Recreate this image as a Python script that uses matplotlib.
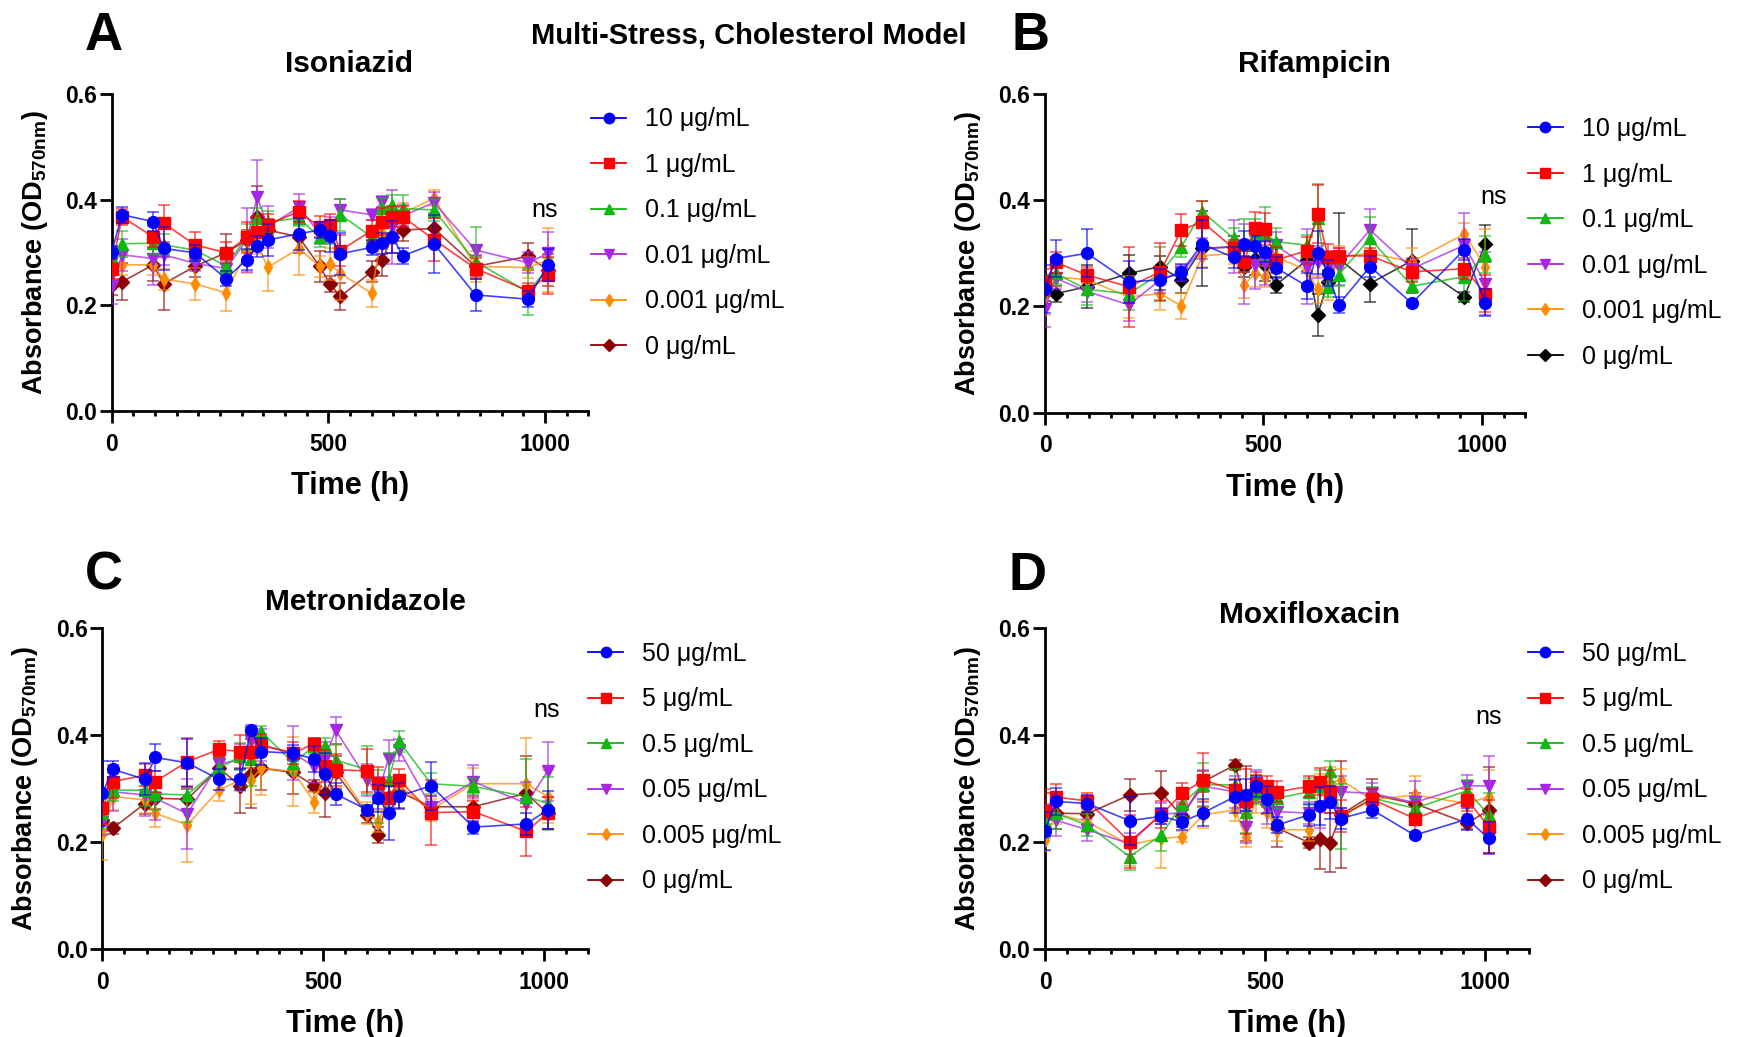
import matplotlib.pyplot as plt
from matplotlib.ticker import MultipleLocator, FormatStrFormatter

plt.rcParams['font.family'] = ['Liberation Sans', 'DejaVu Sans']
plt.rcParams['mathtext.fontset'] = 'custom'
plt.rcParams['mathtext.bf'] = 'Liberation Sans:bold'
plt.rcParams['mathtext.rm'] = 'Liberation Sans'

# sampling times (h)
times_a = [0, 24, 96, 120, 192, 264, 312, 336, 360, 432, 480, 504, 528, 600, 624, 648, 672, 744, 840, 960, 1008]
times_b = [0, 24, 96, 192, 264, 312, 360, 432, 456, 480, 504, 528, 600, 624, 648, 672, 744, 840, 960, 1008]

labels_low = ["10 μg/mL", "1 μg/mL", "0.1 μg/mL", "0.01 μg/mL", "0.001 μg/mL", "0 μg/mL"]
labels_high = ["50 μg/mL", "5 μg/mL", "0.5 μg/mL", "0.05 μg/mL", "0.005 μg/mL", "0 μg/mL"]

# Isoniazid
inh_10 = [0.301, 0.372, 0.359, 0.308, 0.300, 0.251, 0.287, 0.312, 0.324, 0.336, 0.343, 0.332, 0.298, 0.310, 0.318, 0.330, 0.294, 0.317, 0.220, 0.212, 0.277]
inh_10_err = [0.012, 0.015, 0.018, 0.040, 0.015, 0.015, 0.020, 0.020, 0.030, 0.030, 0.015, 0.030, 0.040, 0.015, 0.020, 0.030, 0.015, 0.055, 0.030, 0.015, 0.030]
inh_1 = [0.270, 0.368, 0.330, 0.356, 0.315, 0.300, 0.329, 0.340, 0.353, 0.378, 0.349, 0.353, 0.304, 0.342, 0.359, 0.368, 0.368, 0.325, 0.270, 0.228, 0.257]
inh_1_err = [0.020, 0.015, 0.020, 0.035, 0.025, 0.020, 0.030, 0.030, 0.020, 0.020, 0.020, 0.020, 0.030, 0.020, 0.025, 0.020, 0.020, 0.040, 0.020, 0.015, 0.035]
inh_01 = [0.290, 0.317, 0.318, 0.315, 0.305, 0.275, 0.330, 0.365, 0.359, 0.365, 0.330, 0.337, 0.372, 0.330, 0.384, 0.390, 0.384, 0.381, 0.283, 0.226, 0.270]
inh_01_err = [0.020, 0.025, 0.020, 0.020, 0.020, 0.015, 0.025, 0.020, 0.020, 0.015, 0.020, 0.020, 0.030, 0.020, 0.020, 0.020, 0.025, 0.020, 0.065, 0.045, 0.020]
inh_001 = [0.237, 0.296, 0.289, 0.296, 0.280, 0.270, 0.324, 0.406, 0.349, 0.386, 0.337, 0.343, 0.381, 0.372, 0.397, 0.349, 0.370, 0.395, 0.305, 0.281, 0.299]
inh_001_err = [0.035, 0.030, 0.050, 0.020, 0.015, 0.015, 0.060, 0.070, 0.040, 0.025, 0.020, 0.025, 0.020, 0.010, 0.010, 0.070, 0.020, 0.020, 0.010, 0.020, 0.040]
inh_0001 = [0.270, 0.277, 0.277, 0.250, 0.241, 0.224, 0.302, 0.318, 0.272, 0.308, 0.274, 0.278, 0.261, 0.223, 0.337, 0.337, 0.375, 0.403, 0.274, 0.272, 0.286]
inh_0001_err = [0.020, 0.020, 0.020, 0.020, 0.030, 0.035, 0.040, 0.020, 0.045, 0.050, 0.020, 0.030, 0.050, 0.025, 0.020, 0.020, 0.020, 0.015, 0.030, 0.020, 0.060]
inh_0 = [0.239, 0.245, 0.277, 0.241, 0.274, 0.300, 0.324, 0.367, 0.343, 0.330, 0.274, 0.241, 0.217, 0.264, 0.286, 0.330, 0.343, 0.346, 0.274, 0.293, 0.267]
inh_0_err = [0.020, 0.035, 0.030, 0.050, 0.020, 0.035, 0.020, 0.060, 0.020, 0.030, 0.030, 0.015, 0.025, 0.020, 0.030, 0.030, 0.020, 0.020, 0.020, 0.025, 0.030]

# Rifampicin
rif_10 = [0.232, 0.290, 0.300, 0.246, 0.250, 0.265, 0.317, 0.292, 0.317, 0.313, 0.303, 0.273, 0.238, 0.301, 0.263, 0.203, 0.275, 0.206, 0.307, 0.207]
rif_10_err = [0.045, 0.035, 0.045, 0.040, 0.020, 0.015, 0.045, 0.020, 0.025, 0.020, 0.020, 0.020, 0.025, 0.040, 0.025, 0.015, 0.020, 0.005, 0.020, 0.025]
rif_1 = [0.245, 0.283, 0.259, 0.237, 0.265, 0.344, 0.359, 0.309, 0.284, 0.347, 0.345, 0.287, 0.305, 0.374, 0.293, 0.295, 0.295, 0.265, 0.271, 0.224]
rif_1_err = [0.025, 0.020, 0.015, 0.075, 0.055, 0.030, 0.040, 0.015, 0.020, 0.030, 0.030, 0.025, 0.025, 0.055, 0.025, 0.015, 0.015, 0.020, 0.020, 0.035]
rif_01 = [0.240, 0.262, 0.232, 0.224, 0.262, 0.312, 0.378, 0.328, 0.315, 0.334, 0.337, 0.322, 0.315, 0.366, 0.237, 0.259, 0.328, 0.238, 0.256, 0.297]
rif_01_err = [0.020, 0.020, 0.030, 0.030, 0.050, 0.020, 0.020, 0.020, 0.050, 0.030, 0.050, 0.025, 0.020, 0.065, 0.020, 0.020, 0.040, 0.010, 0.045, 0.035]
rif_001 = [0.196, 0.253, 0.228, 0.203, 0.250, 0.263, 0.309, 0.312, 0.280, 0.278, 0.281, 0.315, 0.275, 0.284, 0.275, 0.275, 0.344, 0.271, 0.315, 0.243]
rif_001_err = [0.035, 0.020, 0.020, 0.030, 0.025, 0.015, 0.020, 0.050, 0.075, 0.045, 0.040, 0.025, 0.070, 0.030, 0.030, 0.035, 0.040, 0.020, 0.060, 0.060]
rif_0001 = [0.203, 0.256, 0.250, 0.218, 0.224, 0.201, 0.295, 0.300, 0.240, 0.262, 0.256, 0.293, 0.268, 0.232, 0.237, 0.293, 0.300, 0.284, 0.336, 0.275]
rif_0001_err = [0.020, 0.020, 0.020, 0.040, 0.030, 0.025, 0.020, 0.020, 0.025, 0.025, 0.020, 0.020, 0.025, 0.025, 0.025, 0.020, 0.020, 0.025, 0.020, 0.070]
rif_0 = [0.235, 0.224, 0.237, 0.262, 0.275, 0.250, 0.309, 0.312, 0.275, 0.290, 0.278, 0.240, 0.287, 0.184, 0.246, 0.290, 0.243, 0.286, 0.218, 0.318]
rif_0_err = [0.025, 0.015, 0.040, 0.035, 0.020, 0.025, 0.070, 0.020, 0.020, 0.030, 0.030, 0.015, 0.020, 0.040, 0.020, 0.085, 0.035, 0.060, 0.010, 0.035]

# Metronidazole
met_50 = [0.291, 0.336, 0.317, 0.358, 0.348, 0.317, 0.317, 0.409, 0.369, 0.366, 0.355, 0.327, 0.290, 0.260, 0.282, 0.254, 0.286, 0.305, 0.228, 0.234, 0.260]
met_50_err = [0.060, 0.015, 0.030, 0.025, 0.045, 0.020, 0.020, 0.005, 0.025, 0.015, 0.025, 0.040, 0.020, 0.010, 0.025, 0.050, 0.025, 0.045, 0.012, 0.020, 0.035]
met_5 = [0.263, 0.313, 0.325, 0.313, 0.350, 0.373, 0.369, 0.369, 0.381, 0.366, 0.384, 0.342, 0.335, 0.333, 0.310, 0.282, 0.316, 0.255, 0.257, 0.220, 0.254]
met_5_err = [0.030, 0.030, 0.020, 0.020, 0.045, 0.015, 0.030, 0.030, 0.020, 0.020, 0.010, 0.030, 0.030, 0.040, 0.030, 0.030, 0.020, 0.060, 0.020, 0.045, 0.030]
met_05 = [0.254, 0.297, 0.297, 0.290, 0.288, 0.338, 0.360, 0.355, 0.406, 0.348, 0.379, 0.379, 0.353, 0.335, 0.285, 0.316, 0.388, 0.309, 0.304, 0.285, 0.272]
met_05_err = [0.030, 0.020, 0.030, 0.030, 0.050, 0.020, 0.025, 0.050, 0.010, 0.020, 0.015, 0.015, 0.030, 0.045, 0.050, 0.050, 0.020, 0.020, 0.015, 0.070, 0.050]
met_005 = [0.238, 0.294, 0.288, 0.282, 0.253, 0.346, 0.353, 0.388, 0.381, 0.366, 0.341, 0.356, 0.409, 0.316, 0.291, 0.356, 0.372, 0.266, 0.313, 0.272, 0.332]
met_005_err = [0.025, 0.035, 0.040, 0.040, 0.065, 0.020, 0.030, 0.030, 0.030, 0.050, 0.030, 0.030, 0.025, 0.030, 0.030, 0.035, 0.020, 0.020, 0.030, 0.040, 0.055]
met_0005 = [0.216, 0.285, 0.279, 0.254, 0.232, 0.297, 0.316, 0.316, 0.338, 0.332, 0.274, 0.332, 0.341, 0.254, 0.238, 0.282, 0.304, 0.260, 0.309, 0.309, 0.285]
met_0005_err = [0.050, 0.025, 0.025, 0.025, 0.070, 0.020, 0.020, 0.045, 0.050, 0.065, 0.020, 0.030, 0.040, 0.020, 0.020, 0.020, 0.020, 0.020, 0.030, 0.085, 0.050]
met_0 = [0.241, 0.226, 0.272, 0.282, 0.280, 0.338, 0.305, 0.328, 0.338, 0.330, 0.305, 0.291, 0.330, 0.251, 0.213, 0.285, 0.294, 0.266, 0.266, 0.291, 0.254]
met_0_err = [0.020, 0.010, 0.020, 0.020, 0.020, 0.020, 0.050, 0.065, 0.040, 0.040, 0.010, 0.045, 0.030, 0.015, 0.015, 0.030, 0.030, 0.020, 0.020, 0.070, 0.030]

# Moxifloxacin
mox_50 = [0.221, 0.276, 0.272, 0.240, 0.248, 0.238, 0.255, 0.285, 0.288, 0.304, 0.280, 0.232, 0.251, 0.267, 0.274, 0.244, 0.260, 0.213, 0.243, 0.207]
mox_50_err = [0.035, 0.025, 0.015, 0.045, 0.015, 0.015, 0.025, 0.030, 0.030, 0.020, 0.025, 0.015, 0.020, 0.035, 0.030, 0.020, 0.015, 0.005, 0.020, 0.030]
mox_5 = [0.259, 0.284, 0.277, 0.201, 0.251, 0.291, 0.316, 0.297, 0.276, 0.311, 0.304, 0.294, 0.304, 0.313, 0.294, 0.248, 0.280, 0.244, 0.279, 0.229]
mox_5_err = [0.040, 0.025, 0.015, 0.050, 0.025, 0.020, 0.050, 0.020, 0.060, 0.020, 0.020, 0.020, 0.020, 0.025, 0.040, 0.030, 0.020, 0.030, 0.020, 0.050]
mox_05 = [0.238, 0.254, 0.232, 0.173, 0.213, 0.272, 0.307, 0.307, 0.257, 0.291, 0.285, 0.282, 0.294, 0.304, 0.332, 0.248, 0.282, 0.263, 0.296, 0.251]
mox_05_err = [0.030, 0.030, 0.020, 0.025, 0.030, 0.025, 0.040, 0.030, 0.040, 0.020, 0.020, 0.020, 0.025, 0.030, 0.020, 0.060, 0.020, 0.020, 0.020, 0.040]
mox_005 = [0.241, 0.241, 0.223, 0.197, 0.253, 0.254, 0.304, 0.294, 0.229, 0.304, 0.263, 0.257, 0.254, 0.266, 0.294, 0.294, 0.291, 0.274, 0.305, 0.305]
mox_005_err = [0.030, 0.030, 0.020, 0.020, 0.020, 0.020, 0.030, 0.030, 0.030, 0.030, 0.030, 0.020, 0.020, 0.040, 0.030, 0.030, 0.020, 0.040, 0.020, 0.055]
mox_0005 = [0.204, 0.253, 0.238, 0.195, 0.207, 0.210, 0.251, 0.260, 0.210, 0.285, 0.257, 0.223, 0.223, 0.297, 0.310, 0.316, 0.279, 0.288, 0.272, 0.285]
mox_0005_err = [0.020, 0.020, 0.020, 0.040, 0.055, 0.010, 0.025, 0.020, 0.020, 0.030, 0.030, 0.020, 0.020, 0.030, 0.030, 0.020, 0.020, 0.035, 0.020, 0.050]
mox_0 = [0.251, 0.254, 0.253, 0.288, 0.292, 0.248, 0.313, 0.344, 0.272, 0.300, 0.272, 0.226, 0.199, 0.205, 0.199, 0.251, 0.288, 0.272, 0.235, 0.260]
mox_0_err = [0.040, 0.030, 0.020, 0.030, 0.040, 0.020, 0.020, 0.010, 0.070, 0.025, 0.020, 0.035, 0.010, 0.055, 0.055, 0.100, 0.030, 0.020, 0.010, 0.080]

colors = ["#0000FF", "#FF0000", "#12B812", "#A626E6", "#FF8C00", "#8B0000"]
markers = ["o", "s", "^", "v", "d", "D"]
msizes = [8.5, 8, 8.5, 8.5, 7, 7]


def draw_panel(ax, times, series, errs, labels, cols, legend_xy):
    lines = []
    for i in range(6):
        z = 20 - 2 * i
        ax.errorbar(times, series[i], yerr=errs[i], fmt="none", ecolor=cols[i],
                    elinewidth=1.1, capsize=4, capthick=1.1, alpha=0.7, zorder=z)
        ax.plot(times, series[i], color=cols[i], lw=1.2, alpha=0.75, zorder=z + 0.5)
        ax.plot(times, series[i], ls="none", marker=markers[i], ms=msizes[i],
                color=cols[i], mec=cols[i], zorder=z + 1)
        h, = ax.plot([], [], color=cols[i], lw=1.3, marker=markers[i],
                     ms=msizes[i] - 1, mfc=cols[i], mec=cols[i])
        lines.append(h)
    ax.set_xlim(0, 1100)
    ax.set_ylim(0, 0.6)
    ax.set_xticks([0, 500, 1000])
    ax.xaxis.set_minor_locator(MultipleLocator(50))
    ax.set_yticks([0, 0.2, 0.4, 0.6])
    ax.yaxis.set_major_formatter(FormatStrFormatter("%.1f"))
    ax.spines["top"].set_visible(False)
    ax.spines["right"].set_visible(False)
    ax.spines["left"].set_linewidth(2)
    ax.spines["bottom"].set_linewidth(2)
    ax.tick_params(which="major", length=8.6, width=2, labelsize=16.5)
    ax.tick_params(axis="x", which="major", pad=7)
    ax.tick_params(axis="y", which="major", pad=2)
    ax.tick_params(which="minor", length=3.6, width=2)
    for t in ax.get_xticklabels() + ax.get_yticklabels():
        t.set_fontweight("bold")
    ax.set_xlabel("Time (h)", fontsize=22, fontweight="bold", labelpad=11)
    ax.set_ylabel(r"Absorbance (OD$_\mathbf{570nm}$)", fontsize=19.5, fontweight="bold", labelpad=11)
    ax.legend(lines, labels, loc="upper left", bbox_to_anchor=legend_xy,
              bbox_transform=ax.figure.transFigure, frameon=False, fontsize=18,
              handlelength=1.4, handletextpad=0.75, labelspacing=0.86,
              borderpad=0, borderaxespad=0)


fig = plt.figure(figsize=(17.47, 10.37), dpi=100)

ax_a = fig.add_axes([0.0639, 0.6037, 0.2728, 0.3052])
ax_b = fig.add_axes([0.5982, 0.6020, 0.2750, 0.3076])
ax_c = fig.add_axes([0.0586, 0.0846, 0.2781, 0.3100])
ax_d = fig.add_axes([0.5982, 0.0846, 0.2770, 0.3100])

draw_panel(ax_a, times_a, [inh_10, inh_1, inh_01, inh_001, inh_0001, inh_0],
           [inh_10_err, inh_1_err, inh_01_err, inh_001_err, inh_0001_err, inh_0_err],
           labels_low, colors, (0.3385, 0.8965))
draw_panel(ax_b, times_b, [rif_10, rif_1, rif_01, rif_001, rif_0001, rif_0],
           [rif_10_err, rif_1_err, rif_01_err, rif_001_err, rif_0001_err, rif_0_err],
           labels_low, colors[:5] + ["#000000"], (0.8745, 0.8870))
draw_panel(ax_c, times_a, [met_50, met_5, met_05, met_005, met_0005, met_0],
           [met_50_err, met_5_err, met_05_err, met_005_err, met_0005_err, met_0_err],
           labels_high, colors, (0.3368, 0.3810))
draw_panel(ax_d, times_b, [mox_50, mox_5, mox_05, mox_005, mox_0005, mox_0],
           [mox_50_err, mox_5_err, mox_05_err, mox_005_err, mox_0005_err, mox_0_err],
           labels_high, colors, (0.8745, 0.3810))

# "ns" annotations
ax_a.text(1000, 0.381, "ns", ha="center", va="center", fontsize=18)
ax_b.text(1027, 0.406, "ns", ha="center", va="center", fontsize=18)
ax_c.text(1006, 0.447, "ns", ha="center", va="center", fontsize=18)
ax_d.text(1008, 0.434, "ns", ha="center", va="center", fontsize=18)

# titles and panel letters
fig.text(348.7 / 1747, 1 - 63.5 / 1037, "Isoniazid", ha="center", va="center", fontsize=21.5, fontweight="bold")
fig.text(1314.6 / 1747, 1 - 63.5 / 1037, "Rifampicin", ha="center", va="center", fontsize=21.5, fontweight="bold")
fig.text(365.4 / 1747, 1 - 602.5 / 1037, "Metronidazole", ha="center", va="center", fontsize=21.5, fontweight="bold")
fig.text(1310.0 / 1747, 1 - 614.7 / 1037, "Moxifloxacin", ha="center", va="center", fontsize=21.5, fontweight="bold")
fig.text(748.7 / 1747, 1 - 35.0 / 1037, "Multi-Stress, Cholesterol Model", ha="center", va="center",
         fontsize=21, fontweight="bold")
for letter, x, y in [("A", 103.6, 36.5), ("B", 1030.5, 36.5), ("C", 103.6, 575.5), ("D", 1027.0, 575.5)]:
    fig.text(x / 1747, 1 - y / 1037, letter, ha="center", va="center", fontsize=38, fontweight="bold")

fig.savefig("out.png", dpi=100)
